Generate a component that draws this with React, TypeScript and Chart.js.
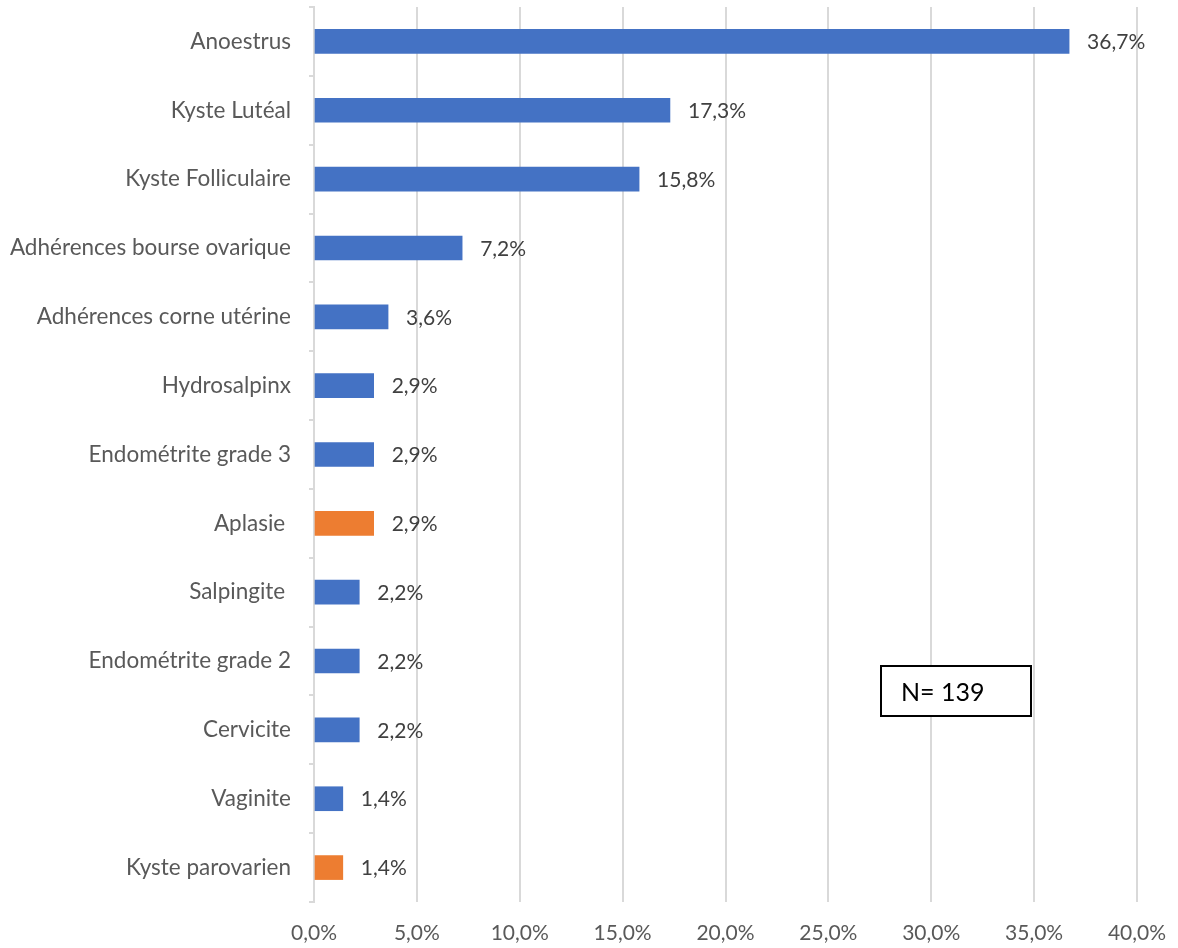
import React, { useEffect, useRef } from "react";
import { Chart, registerables } from "chart.js";

Chart.register(...registerables);

const categories = [
  "Anoestrus",
  "Kyste Lutéal",
  "Kyste Folliculaire",
  "Adhérences bourse ovarique",
  "Adhérences corne utérine",
  "Hydrosalpinx",
  "Endométrite grade 3",
  "Aplasie ",
  "Salpingite ",
  "Endométrite grade 2",
  "Cervicite",
  "Vaginite",
  "Kyste parovarien",
];
const values = [36.7, 17.3, 15.8, 7.2, 3.6, 2.9, 2.9, 2.9, 2.2, 2.2, 2.2, 1.4, 1.4];
const highlighted = ["Aplasie ", "Kyste parovarien"];
const xTicks = [0, 5, 10, 15, 20, 25, 30, 35, 40];
const noteText = "N= 139";

const BLUE = "#4472C4";
const ORANGE = "#ED7D31";
const FONT = "Lato, 'Open Sans', sans-serif";

const fmt = (v: number) => v.toFixed(1).replace(".", ",") + "%";

const zeroPadding = (axis: any) => {
  axis.paddingTop = 0;
  axis.paddingBottom = 0;
  axis.paddingLeft = 0;
  axis.paddingRight = 0;
};

export default function App() {
  const ref = useRef<HTMLCanvasElement | null>(null);

  useEffect(() => {
    document.body.style.margin = "0";
    const canvas = ref.current;
    if (!canvas) return;

    const labelPlugin = {
      id: "valueLabels",
      afterDatasetsDraw(chart: any) {
        const ctx = chart.ctx;
        const meta = chart.getDatasetMeta(0);
        ctx.save();
        ctx.font = `21px ${FONT}`;
        ctx.fillStyle = "#404040";
        ctx.textAlign = "left";
        ctx.textBaseline = "middle";
        meta.data.forEach((bar: any, i: number) => {
          ctx.fillText(fmt(values[i]), bar.x + 18, bar.y + 1);
        });
        ctx.restore();
      },
      afterDraw(chart: any) {
        const ctx = chart.ctx;
        ctx.save();
        ctx.fillStyle = "#ffffff";
        ctx.fillRect(881, 666, 150, 50);
        ctx.strokeStyle = "#000000";
        ctx.lineWidth = 2;
        ctx.strokeRect(881, 666, 150, 50);
        ctx.fillStyle = "#000000";
        ctx.font = `25px ${FONT}`;
        ctx.textAlign = "left";
        ctx.textBaseline = "middle";
        ctx.fillText(noteText, 901, 693);
        ctx.restore();
      },
    };

    const chart = new Chart(canvas, {
      type: "bar",
      data: {
        labels: categories,
        datasets: [
          {
            data: values,
            backgroundColor: categories.map((c) => (highlighted.includes(c) ? ORANGE : BLUE)),
            barThickness: 24,
            borderWidth: 0,
          },
        ],
      },
      options: {
        indexAxis: "y",
        animation: false,
        responsive: true,
        maintainAspectRatio: false,
        layout: { padding: { top: 7, right: 41, left: 0, bottom: 0 } },
        plugins: {
          legend: { display: false },
          tooltip: { enabled: false },
        },
        scales: {
          x: {
            min: 0,
            max: 40,
            afterBuildTicks: (axis: any) => {
              axis.ticks = xTicks.map((v) => ({ value: v }));
            },
            afterFit: (axis: any) => {
              axis.height = 46;
              zeroPadding(axis);
            },
            grid: {
              color: "#d9d9d9",
              lineWidth: 2,
              drawTicks: false,
            },
            border: { display: false },
            ticks: {
              padding: 19,
              color: "#595959",
              font: { family: FONT, size: 21 },
              callback: (v: any) => fmt(Number(v)),
              maxRotation: 0,
            },
          },
          y: {
            afterFit: (axis: any) => {
              axis.width = 314;
              zeroPadding(axis);
            },
            grid: {
              offset: true,
              drawOnChartArea: false,
              drawTicks: true,
              tickLength: 5,
              color: "#d9d9d9",
              lineWidth: 2,
            },
            border: { display: true, color: "#d9d9d9", width: 2 },
            ticks: {
              padding: 18,
              color: "#595959",
              font: { family: FONT, size: 22.5 },
              autoSkip: false,
            },
          },
        },
      },
      plugins: [labelPlugin],
    } as any);

    return () => chart.destroy();
  }, []);

  return (
    <div style={{ position: "relative", width: 1178, height: 948, background: "#ffffff" }}>
      <canvas ref={ref} />
    </div>
  );
}
